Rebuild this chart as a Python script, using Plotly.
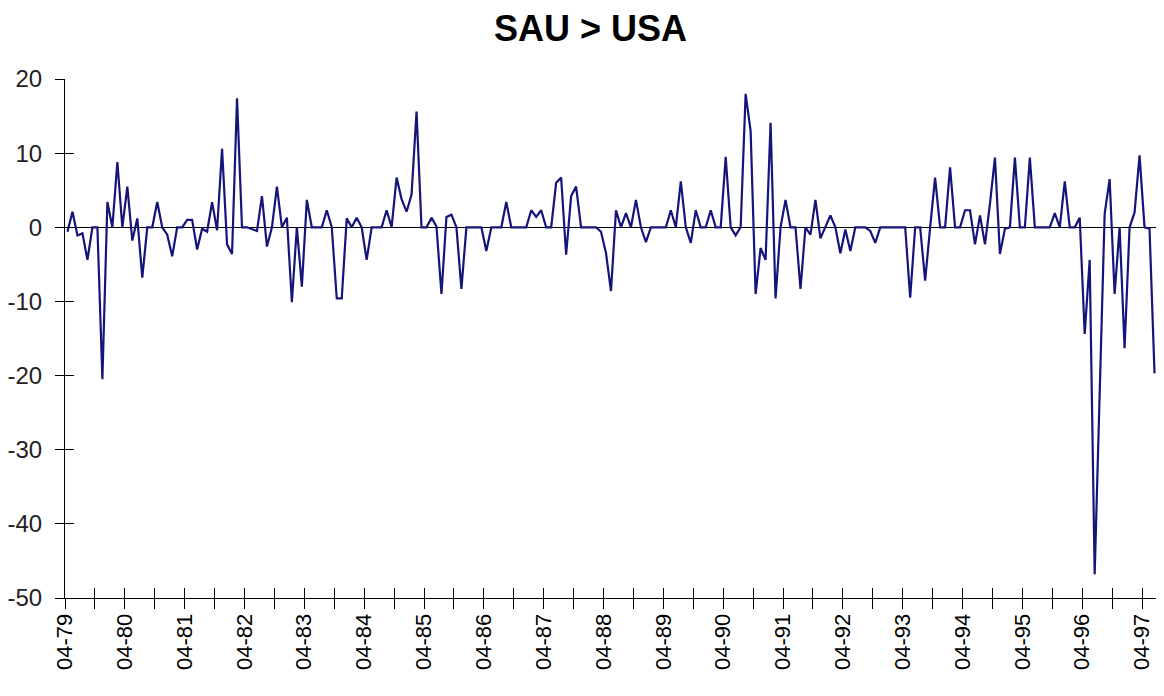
import plotly.graph_objects as go

# Monthly values, 04-79 .. 06-97
values_1979_80 = [-0.6, 2.1, -1.1, -0.8, -4.4, 0, 0, -20.5, 3.4, 0, 8.8, 0]
values_1980_81 = [5.5, -1.8, 1.2, -6.8, 0, 0, 3.4, 0, -1.0, -3.9, 0, 0]
values_1981_82 = [1.0, 1.0, -3.0, -0.2, -0.6, 3.4, -0.4, 10.6, -2.3, -3.6, 17.4, 0]
values_1982_83 = [0, -0.2, -0.5, 4.2, -2.6, 0, 5.5, 0, 1.3, -10.1, 0, -8.0]
values_1983_84 = [3.7, 0, 0, 0, 2.3, 0, -9.6, -9.6, 1.2, 0, 1.3, 0]
values_1984_85 = [-4.4, 0, 0, 0, 2.3, 0, 6.7, 3.8, 2.1, 4.4, 15.6, 0]
values_1985_86 = [0, 1.3, 0.1, -9.0, 1.4, 1.7, 0, -8.3, 0, 0, 0, 0]
values_1986_87 = [-3.2, 0, 0, 0, 3.4, 0, 0, 0, 0, 2.3, 1.4, 2.3]
values_1987_88 = [0, 0, 6.0, 6.7, -3.7, 4.2, 5.5, 0, 0, 0, 0, -0.6]
values_1988_89 = [-3.5, -8.6, 2.3, 0, 1.9, 0, 3.7, 0, -2.0, 0, 0, 0]
values_1989_90 = [0, 2.3, 0, 6.2, 0, -2.1, 2.3, 0, 0, 2.3, 0, 0]
values_1990_91 = [9.5, 0, -1.1, 0, 18.0, 13.0, -9.0, -2.8, -4.4, 14.1, -9.6, 0]
values_1991_92 = [3.7, 0, 0, -8.3, 0, -1.0, 3.7, -1.5, 0, 1.6, 0, -3.5]
values_1992_93 = [-0.3, -3.2, 0, 0, 0, -0.5, -2.1, 0, 0, 0, 0, 0]
values_1993_94 = [0, -9.5, 0, 0, -7.2, 0, 6.7, 0, 0, 8.1, 0, 0]
values_1994_95 = [2.3, 2.3, -2.3, 1.6, -2.3, 3.2, 9.4, -3.6, -0.2, 0, 9.4, 0]
values_1995_96 = [0, 9.4, 0, 0, 0, 0, 1.9, 0, 6.2, 0, 0, 1.3]
values_1996_97 = [-14.4, -4.4, -46.8, -22.0, 1.8, 6.5, -9.0, 0, -16.3, 0, 2.0, 9.7]
values_1997 = [0, -0.2, -19.7]

values = (values_1979_80 + values_1980_81 + values_1981_82 + values_1982_83 +
          values_1983_84 + values_1984_85 + values_1985_86 + values_1986_87 +
          values_1987_88 + values_1988_89 + values_1989_90 + values_1990_91 +
          values_1991_92 + values_1992_93 + values_1993_94 + values_1994_95 +
          values_1995_96 + values_1996_97 + values_1997)

start_year = 79
months = list(range(len(values)))  # month index from 04-79

# ticks every 6 months (at category boundaries), labels every 12
tick_vals = [k - 0.5 for k in range(0, 217, 6)]
tick_text = [("04-%02d" % ((start_year + k // 12) % 100)) if k % 12 == 0 else ""
             for k in range(0, 217, 6)]
y_ticks = [-50, -40, -30, -20, -10, 0, 10, 20]
y_text = [str(v) for v in y_ticks]

FONT = "Liberation Sans, Arial, Helvetica, sans-serif"
LINE = "#14147a"
xr = [-0.5, 218.9]
yr = [-50, 20]

W, H = 1156, 680  # page body has an 8px margin

fig = go.Figure()
# invisible copy on the base axes (outside ticks + labels)
fig.add_trace(go.Scatter(x=months, y=values, mode="lines",
                         line=dict(color="rgba(0,0,0,0)", width=0),
                         hoverinfo="skip", showlegend=False))
# visible series on overlay axes (inside ticks)
fig.add_trace(go.Scatter(x=months, y=values, mode="lines", xaxis="x2", yaxis="y2",
                         line=dict(color=LINE, width=2.2), showlegend=False))

fig.update_layout(
    width=W, height=H,
    paper_bgcolor="white", plot_bgcolor="white",
    margin=dict(l=57, r=5, t=71, b=H - 590, autoexpand=False),
    title=dict(text="<b>SAU &gt; USA</b>", x=582.5 / W, xanchor="center",
               y=1 - 20 / H, yanchor="middle", automargin=False,
               font=dict(family=FONT, size=36, color="black")),
    xaxis=dict(range=xr, tickmode="array", tickvals=tick_vals, ticktext=tick_text,
               tickangle=-90, ticks="outside", ticklen=10, tickwidth=1, tickcolor="black",
               showline=True, linecolor="black", linewidth=1, automargin=False,
               showgrid=False, zeroline=False, ticklabelstandoff=-4,
               tickfont=dict(family=FONT, size=22, color="black")),
    yaxis=dict(range=yr, tickmode="array", tickvals=y_ticks, ticktext=y_text,
               ticks="outside", ticklen=9, tickwidth=1, tickcolor="black",
               showline=True, linecolor="black", linewidth=1, automargin=False,
               showgrid=False, zeroline=True, zerolinecolor="black", zerolinewidth=1,
               ticklabelstandoff=8,
               tickfont=dict(family=FONT, size=24, color="#222222")),
    xaxis2=dict(range=xr, overlaying="x", side="bottom", tickmode="array",
                tickvals=tick_vals, ticks="inside", ticklen=10, tickwidth=1,
                tickcolor="black", showticklabels=False, showline=False,
                showgrid=False, zeroline=False),
    yaxis2=dict(range=yr, overlaying="y", side="left", tickmode="array",
                tickvals=y_ticks, ticks="inside", ticklen=9, tickwidth=1,
                tickcolor="black", showticklabels=False, showline=False,
                showgrid=False, zeroline=False),
)

fig.write_html("out.html")
